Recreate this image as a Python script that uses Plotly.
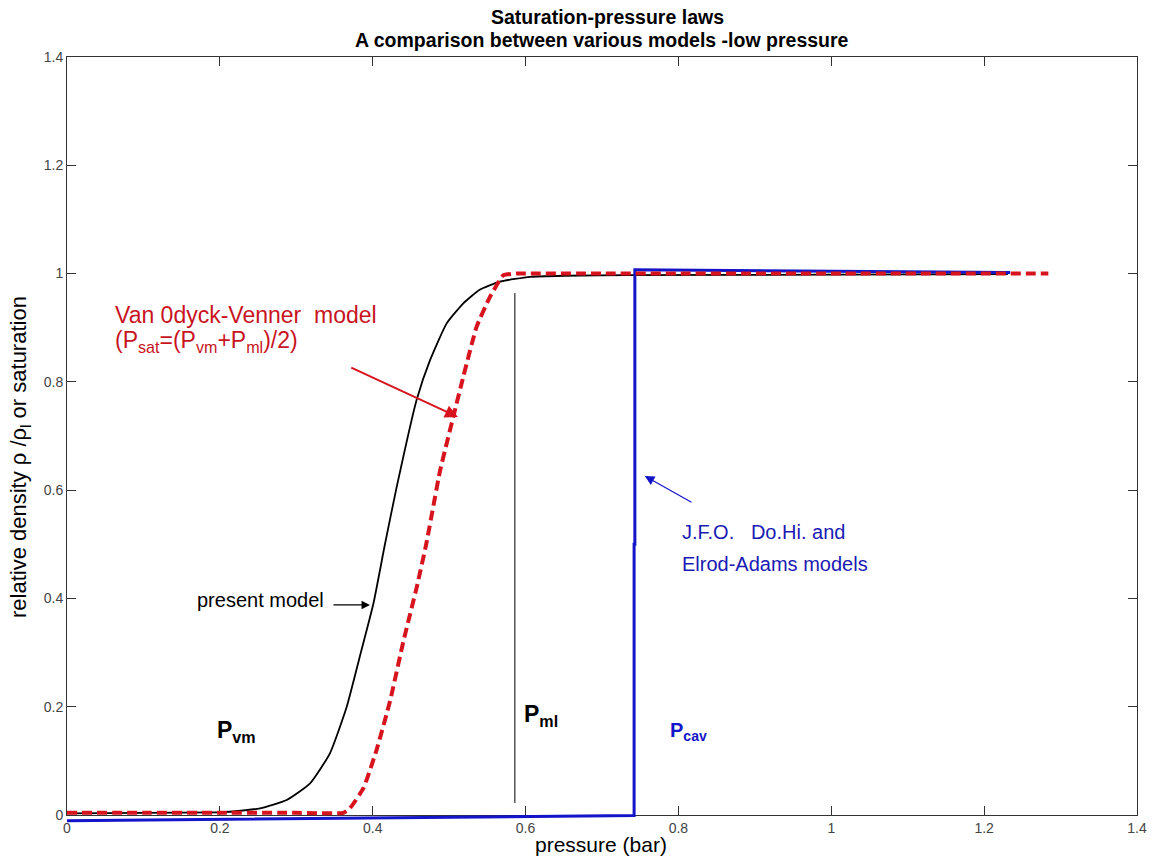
import plotly.graph_objects as go

# ---------------- data ----------------
present_x = [0.0, 0.1, 0.2, 0.213, 0.2525, 0.2874, 0.318, 0.344, 0.366, 0.383, 0.401,
             0.416, 0.4314, 0.4575, 0.475, 0.4968, 0.5186, 0.540, 0.5665, 0.606, 0.65,
             0.737, 1.0, 1.231]
present_y = [0.003, 0.004, 0.005, 0.006, 0.0123, 0.0277, 0.0585, 0.114, 0.200, 0.292, 0.391,
             0.50, 0.606, 0.767, 0.840, 0.908, 0.945, 0.970, 0.985, 0.994, 0.996,
             0.997, 0.998, 0.999]

vov_x = [0.0, 0.1, 0.2, 0.3, 0.3616, 0.370, 0.388, 0.405, 0.4226, 0.440, 0.4575, 0.47,
         0.488, 0.5055, 0.5186, 0.536, 0.5534, 0.571, 0.588, 0.7, 1.0, 1.284]
vov_y = [0.004, 0.004, 0.004, 0.004, 0.004, 0.012, 0.05, 0.12, 0.21, 0.32, 0.42, 0.50,
         0.635, 0.736, 0.810, 0.902, 0.957, 0.997, 1.0, 1.0, 1.0, 1.0]

jfo_x = [0.0, 0.3, 0.6, 0.742, 0.742, 0.743, 0.743, 1.234]
jfo_y = [-0.0105, -0.007, -0.003, -0.001, 0.5, 0.5, 1.007, 1.002]

pml_x = [0.586, 0.586]
pml_y = [0.022, 0.964]

x_ticks = [0, 0.2, 0.4, 0.6, 0.8, 1, 1.2, 1.4]
x_tick_labels = ["0", "0.2", "0.4", "0.6", "0.8", "1", "1.2", "1.4"]
y_ticks = [0, 0.2, 0.4, 0.6, 0.8, 1, 1.2, 1.4]
y_tick_labels = ["0", "0.2", "0.4", "0.6", "0.8", "1", "1.2", "1.4"]

# arrows: (head_x, head_y, tail_x, tail_y)
arrow_red = (0.5116, 0.7351, 0.370, 0.8275)
arrow_black = (0.3964, 0.388, 0.3467, 0.388)
arrow_blue = (0.756, 0.626, 0.819, 0.576)

FONT = "Liberation Sans, Arial, sans-serif"
RED = "#d7141e"
RED_TXT = "#c8141e"
BLUE = "#1414c8"
BLUE_TXT = "#1a1ab4"

# layout geometry: the page body adds 8px; an extra strip below the frame lets the
# blue base line (slightly below zero) stay visible as in the reference
W, H = 1152, 858
ML, MR, MT, MB = 59, 23, 49, 39
EXTRA = 12
PLOT_H = H - MT - MB          # 770
Y_FRAC = EXTRA / PLOT_H
Y_RANGE = [0, 1.4]
Y2_RANGE = [-(Y_RANGE[1] - Y_RANGE[0]) * EXTRA / (PLOT_H - EXTRA), 1.4]

fig = go.Figure()

fig.add_trace(go.Scatter(x=present_x, y=present_y, mode="lines",
                         line=dict(color="black", width=1.8, shape="spline", smoothing=0.5),
                         showlegend=False, hoverinfo="skip"))
fig.add_trace(go.Scatter(x=pml_x, y=pml_y, mode="lines",
                         line=dict(color="black", width=1),
                         showlegend=False, hoverinfo="skip"))
fig.add_trace(go.Scatter(x=jfo_x, y=jfo_y, mode="lines", xaxis="x", yaxis="y2",
                         line=dict(color=BLUE, width=3),
                         showlegend=False, hoverinfo="skip"))
fig.add_trace(go.Scatter(x=vov_x, y=vov_y, mode="lines", xaxis="x", yaxis="y2",
                         line=dict(color=RED, width=4, dash="10px,5px", shape="spline", smoothing=0.4),
                         showlegend=False, hoverinfo="skip"))

annotations = []

def arrow(a, color, width, size, head):
    hx, hy, tx, ty = a
    return dict(x=hx, y=hy, ax=tx, ay=ty, xref="x", yref="y", axref="x", ayref="y",
                text="", showarrow=True, arrowhead=head, arrowsize=size, arrowwidth=width,
                arrowcolor=color, standoff=0, startstandoff=0)

annotations.append(arrow(arrow_red, RED, 2, 1.3, 2))
annotations.append(arrow(arrow_black, "black", 1.2, 1.4, 2))
annotations.append(arrow(arrow_blue, BLUE, 1.2, 1.6, 2))

def txt(x, y, s, size, color, bold=False, xanchor="left"):
    if bold:
        s = "<b>" + s + "</b>"
    return dict(x=x, y=y, xref="x", yref="y", text=s, showarrow=False,
                xanchor=xanchor, yanchor="middle",
                font=dict(family=FONT, size=size, color=color))

annotations.append(txt(0.060, 0.9235, "Van 0dyck-Venner  model", 23, RED_TXT))
annotations.append(txt(0.060, 0.874, "(P<sub>sat</sub>=(P<sub>vm</sub>+P<sub>ml</sub>)/2)", 23, RED_TXT))
annotations.append(txt(0.1675, 0.397, "present model", 20, "black"))
annotations.append(txt(0.802, 0.523, "J.F.O.   Do.Hi. and", 20, BLUE_TXT))
annotations.append(txt(0.802, 0.464, "Elrod-Adams models", 20, BLUE_TXT))
annotations.append(txt(0.1936, 0.155, "P<sub>vm</sub>", 23, "black", bold=True))
annotations.append(txt(0.595, 0.184, "P<sub>ml</sub>", 23, "black", bold=True))
annotations.append(txt(0.787, 0.155, "P<sub>cav</sub>", 20, BLUE, bold=True))

def py(screen_y):
    # paper coordinate for a screen row (screen = figure + 8px body margin)
    bottom = 8 + H - MB
    return (bottom - screen_y) / PLOT_H

# titles
annotations.append(dict(x=0.505, y=py(17), xref="paper", yref="paper", showarrow=False,
                        text="<b>Saturation-pressure laws</b>", xanchor="center", yanchor="middle",
                        font=dict(family=FONT, size=19.5, color="black")))
annotations.append(dict(x=0.5, y=py(40), xref="paper", yref="paper", showarrow=False,
                        text="<b>A comparison between various models -low pressure</b>",
                        xanchor="center", yanchor="middle",
                        font=dict(family=FONT, size=19.5, color="black")))
# axis titles
annotations.append(dict(x=0.499, y=py(845), xref="paper", yref="paper", showarrow=False,
                        text="pressure (bar)", xanchor="center", yanchor="middle",
                        font=dict(family=FONT, size=21, color="black")))
annotations.append(dict(x=-0.0439, y=py(457), xref="paper", yref="paper", showarrow=False,
                        text="relative density ρ /ρ<sub>l</sub> or saturation", textangle=-90,
                        xanchor="center", yanchor="middle",
                        font=dict(family=FONT, size=22, color="black")))

fig.update_layout(
    width=W, height=H,
    margin=dict(l=ML, r=MR, t=MT, b=MB),
    paper_bgcolor="white", plot_bgcolor="rgba(0,0,0,0)",
    annotations=annotations,
    showlegend=False,
)
axis_common = dict(showgrid=False, zeroline=False, showline=True, linecolor="#333333", linewidth=1,
                   mirror="ticks", ticks="inside", ticklen=9, tickcolor="#333333",
                   tickfont=dict(family=FONT, size=14, color="#444444"))
fig.update_layout(
    xaxis=dict(range=[0, 1.4], tickvals=x_ticks, ticktext=x_tick_labels, anchor="y",
               domain=[0, 1], **axis_common),
    yaxis=dict(range=Y_RANGE, tickvals=y_ticks, ticktext=y_tick_labels, domain=[Y_FRAC, 1],
               anchor="x", **axis_common),
    yaxis2=dict(range=Y2_RANGE, domain=[0, 1], anchor="x", visible=False, showgrid=False,
                zeroline=False),
)

fig.write_html("out.html")
